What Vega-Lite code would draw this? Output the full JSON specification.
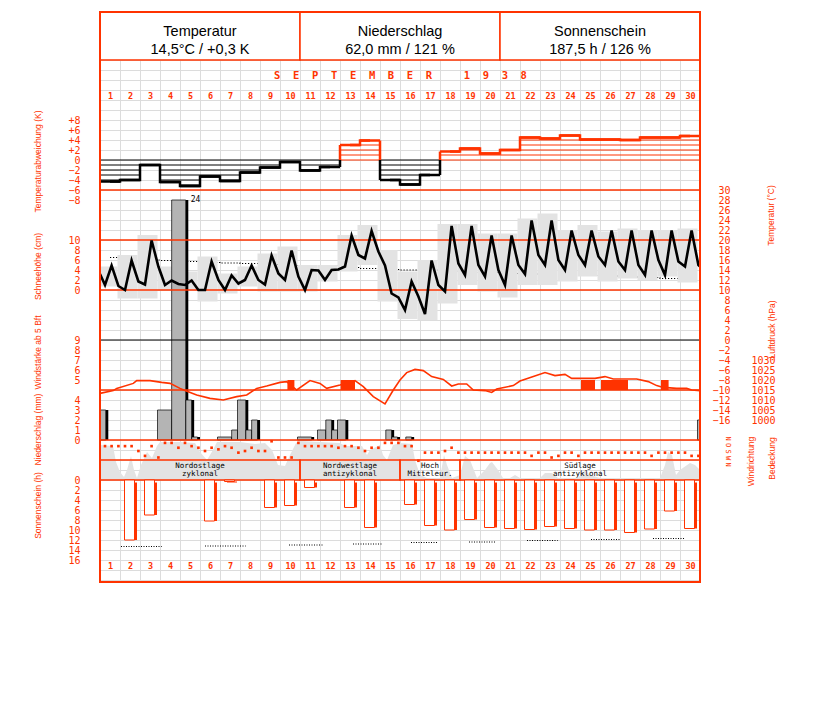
{
"$schema": "https://vega.github.io/schema/vega-lite/v6.json",
"width": 600, "height": 570,
"autosize": {"type": "none"},
"padding": {"left": 100, "top": 12, "right": 127, "bottom": 120},
"background": "white",
"config": {
 "view": {"stroke": null},
 "axis": {"domain": false, "ticks": false, "tickSize": 0, "grid": false, "labelColor": "#ff3300", "labelFont": "DejaVu Sans Mono", "labelFontSize": 10, "labelOverlap": false, "labelFlush": false, "labelBaseline": "middle", "titleColor": "#ff3300", "titleFont": "Liberation Sans", "titleFontSize": 8.5, "titleFontWeight": "normal", "titleAlign": "center", "titleBaseline": "middle"},
 "axisY": {"titleAngle": -90}
},
"datasets": {
 "header": [
  {"title": "Temperatur", "value": "14,5°C / +0,3 K"},
  {"title": "Niederschlag", "value": "62,0 mm / 121 %"},
  {"title": "Sonnenschein", "value": "187,5 h / 126 %"}
 ],
 "days": [
  {"day":1,"dev":-4.3,"seg":1,"tmax":14.7,"tmin":10.7,"tclim":16.5,"sun":0,"wl1":"Nordostlage","wl2":"zyklonal"},
  {"day":2,"dev":-4.0,"seg":1,"tmax":17,"tmin":8.3,"tclim":16.1,"sun":12.0,"wl1":"Nordostlage","wl2":"zyklonal"},
  {"day":3,"dev":-1.0,"seg":1,"tmax":21,"tmin":8.3,"tclim":16.0,"sun":7.0,"wl1":"Nordostlage","wl2":"zyklonal"},
  {"day":4,"dev":-4.4,"seg":1,"tmax":14.7,"tmin":10,"tclim":15.9,"sun":0,"wl1":"Nordostlage","wl2":"zyklonal"},
  {"day":5,"dev":-5.2,"seg":1,"tmax":13.7,"tmin":10,"tclim":15.7,"sun":0,"wl1":"Nordostlage","wl2":"zyklonal"},
  {"day":6,"dev":-3.3,"seg":1,"tmax":16.7,"tmin":7.7,"tclim":15.5,"sun":8.2,"wl1":"Nordostlage","wl2":"zyklonal"},
  {"day":7,"dev":-4.2,"seg":1,"tmax":13.3,"tmin":9.3,"tclim":15.4,"sun":0.3,"wl1":"Nordostlage","wl2":"zyklonal"},
  {"day":8,"dev":-2.5,"seg":1,"tmax":14.7,"tmin":10.7,"tclim":15.3,"sun":0,"wl1":"Nordostlage","wl2":"zyklonal"},
  {"day":9,"dev":-1.5,"seg":1,"tmax":17.3,"tmin":9.7,"tclim":15.1,"sun":5.5,"wl1":"Nordostlage","wl2":"zyklonal"},
  {"day":10,"dev":-0.4,"seg":1,"tmax":18.7,"tmin":9.7,"tclim":14.9,"sun":5.1,"wl1":"Nordostlage","wl2":"zyklonal"},
  {"day":11,"dev":-2.1,"seg":1,"tmax":15,"tmin":9.7,"tclim":14.9,"sun":1.5,"wl1":"Nordwestlage","wl2":"antizyklonal"},
  {"day":12,"dev":-1.4,"seg":1,"tmax":15,"tmin":11.7,"tclim":14.9,"sun":0,"wl1":"Nordwestlage","wl2":"antizyklonal"},
  {"day":13,"dev":3.0,"seg":2,"tmax":21,"tmin":13.7,"tclim":14.5,"sun":5.5,"wl1":"Nordwestlage","wl2":"antizyklonal"},
  {"day":14,"dev":3.9,"seg":2,"tmax":23,"tmin":15,"tclim":14.3,"sun":9.5,"wl1":"Nordwestlage","wl2":"antizyklonal"},
  {"day":15,"dev":-4.0,"seg":3,"tmax":18,"tmin":7.7,"tclim":14.1,"sun":0,"wl1":"Nordwestlage","wl2":"antizyklonal"},
  {"day":16,"dev":-4.9,"seg":3,"tmax":13.7,"tmin":4.2,"tclim":14.0,"sun":4.9,"wl1":"Hoch","wl2":"Mitteleur."},
  {"day":17,"dev":-3.0,"seg":3,"tmax":16,"tmin":4,"tclim":14.0,"sun":9.1,"wl1":"Hoch","wl2":"Mitteleur."},
  {"day":18,"dev":1.7,"seg":4,"tmax":23.2,"tmin":7.3,"tclim":13.7,"sun":10.0,"wl1":"Hoch","wl2":"Mitteleur."},
  {"day":19,"dev":2.3,"seg":4,"tmax":23.2,"tmin":11,"tclim":13.5,"sun":7.9,"wl1":"Südlage","wl2":"antizyklonal"},
  {"day":20,"dev":1.3,"seg":4,"tmax":21.3,"tmin":9.7,"tclim":13.5,"sun":9.5,"wl1":"Südlage","wl2":"antizyklonal"},
  {"day":21,"dev":2.0,"seg":4,"tmax":21.3,"tmin":8.5,"tclim":13.3,"sun":9.7,"wl1":"Südlage","wl2":"antizyklonal"},
  {"day":22,"dev":4.5,"seg":4,"tmax":24.3,"tmin":11,"tclim":13.2,"sun":9.9,"wl1":"Südlage","wl2":"antizyklonal"},
  {"day":23,"dev":4.3,"seg":4,"tmax":25.3,"tmin":11,"tclim":13.1,"sun":9.3,"wl1":"Südlage","wl2":"antizyklonal"},
  {"day":24,"dev":4.9,"seg":4,"tmax":22,"tmin":11.7,"tclim":13.0,"sun":9.7,"wl1":"Südlage","wl2":"antizyklonal"},
  {"day":25,"dev":4.1,"seg":4,"tmax":23,"tmin":12.7,"tclim":12.9,"sun":10.0,"wl1":"Südlage","wl2":"antizyklonal"},
  {"day":26,"dev":4.1,"seg":4,"tmax":21.7,"tmin":11.7,"tclim":12.8,"sun":10.0,"wl1":"Südlage","wl2":"antizyklonal"},
  {"day":27,"dev":4.0,"seg":4,"tmax":22.3,"tmin":12.3,"tclim":12.6,"sun":10.5,"wl1":"Südlage","wl2":"antizyklonal"},
  {"day":28,"dev":4.5,"seg":4,"tmax":22,"tmin":12,"tclim":12.5,"sun":9.8,"wl1":"Südlage","wl2":"antizyklonal"},
  {"day":29,"dev":4.5,"seg":4,"tmax":22,"tmin":12.7,"tclim":12.3,"sun":6.2,"wl1":"Südlage","wl2":"antizyklonal"},
  {"day":30,"dev":4.8,"seg":4,"tmax":22.3,"tmin":11.5,"tclim":12.1,"sun":9.7,"wl1":"Südlage","wl2":"antizyklonal"}
 ],
 "temp": [
  {"t":0.5,"T":13.2},{"t":0.75,"T":11},{"t":1.08,"T":14.9},{"t":1.42,"T":10.8},
  {"t":1.75,"T":10},{"t":2.08,"T":15.9},{"t":2.42,"T":11.7},
  {"t":2.75,"T":11.1},{"t":3.08,"T":19.9},{"t":3.42,"T":14.7},
  {"t":3.75,"T":11},{"t":4.08,"T":11.9},{"t":4.42,"T":11.2},
  {"t":4.75,"T":11},{"t":5.08,"T":11.9},{"t":5.42,"T":10},
  {"t":5.75,"T":10},{"t":6.08,"T":15.7},{"t":6.42,"T":12},
  {"t":6.75,"T":10},{"t":7.08,"T":12.9},{"t":7.42,"T":11.3},
  {"t":7.75,"T":12},{"t":8.08,"T":14.9},{"t":8.42,"T":12},
  {"t":8.75,"T":11.1},{"t":9.08,"T":16.9},{"t":9.42,"T":13.3},
  {"t":9.75,"T":12},{"t":10.08,"T":17.9},{"t":10.42,"T":12.7},
  {"t":10.75,"T":10},{"t":11.08,"T":14},{"t":11.42,"T":13.9},
  {"t":11.75,"T":12},{"t":12.08,"T":14},{"t":12.42,"T":14.1},
  {"t":12.75,"T":14.7},{"t":13.08,"T":20.9},{"t":13.42,"T":17},
  {"t":13.75,"T":16.3},{"t":14.08,"T":21.8},{"t":14.42,"T":17.7},
  {"t":14.75,"T":14.9},{"t":15.08,"T":9.3},{"t":15.42,"T":8.5},
  {"t":15.75,"T":6},{"t":16.08,"T":11.7},{"t":16.42,"T":8.7},
  {"t":16.75,"T":5.2},{"t":17.08,"T":15.9},{"t":17.42,"T":11},
  {"t":17.75,"T":9.7},{"t":18.08,"T":22.8},{"t":18.42,"T":15.3},
  {"t":18.75,"T":13},{"t":19.08,"T":22.8},{"t":19.42,"T":15},
  {"t":19.75,"T":12.7},{"t":20.08,"T":20.9},{"t":20.42,"T":14},
  {"t":20.75,"T":11},{"t":21.08,"T":20.9},{"t":21.42,"T":15},
  {"t":21.75,"T":13.2},{"t":22.08,"T":23.9},{"t":22.42,"T":17},
  {"t":22.75,"T":15},{"t":23.08,"T":23.9},{"t":23.42,"T":16},
  {"t":23.75,"T":14},{"t":24.08,"T":21.9},{"t":24.42,"T":17},
  {"t":24.75,"T":15},{"t":25.08,"T":21.9},{"t":25.42,"T":16.7},
  {"t":25.75,"T":15},{"t":26.08,"T":21.9},{"t":26.42,"T":15.7},
  {"t":26.75,"T":14},{"t":27.08,"T":21.9},{"t":27.42,"T":15},
  {"t":27.75,"T":13},{"t":28.08,"T":21.9},{"t":28.42,"T":16},
  {"t":28.75,"T":13},{"t":29.08,"T":21.9},{"t":29.42,"T":15.7},
  {"t":29.75,"T":14.7},{"t":30.08,"T":21.9},{"t":30.42,"T":15},{"t":30.5,"T":14.7}
 ],
 "precip": [
  {"t0":0.5,"t1":0.79,"mm":3},{"t0":3.375,"t1":4.083,"mm":3},{"t0":4.083,"t1":4.79,"mm":24},
  {"t0":4.79,"t1":5.083,"mm":4},{"t0":5.083,"t1":5.375,"mm":0.3},{"t0":6.375,"t1":7.083,"mm":0.3},
  {"t0":7.083,"t1":7.375,"mm":1},{"t0":7.375,"t1":7.79,"mm":4},{"t0":7.79,"t1":8.083,"mm":1},
  {"t0":8.083,"t1":8.375,"mm":2},{"t0":10.375,"t1":11.083,"mm":0.3},{"t0":11.375,"t1":11.79,"mm":1},
  {"t0":11.79,"t1":12.083,"mm":2},{"t0":12.083,"t1":12.375,"mm":1},{"t0":12.375,"t1":12.79,"mm":2},
  {"t0":14.79,"t1":15.083,"mm":1},{"t0":15.083,"t1":15.375,"mm":0.3},{"t0":15.79,"t1":16.083,"mm":0.3},
  {"t0":30.375,"t1":30.5,"mm":2}
 ],
 "pressure": [
  {"t":0.5,"hPa":1013.3},{"t":1.165,"hPa":1014.7},{"t":1.335,"hPa":1015.8},{"t":2.165,"hPa":1018.3},
  {"t":2.335,"hPa":1019.7},{"t":3.0,"hPa":1019.7},{"t":3.585,"hPa":1018.8},{"t":4.0,"hPa":1018.3},
  {"t":4.5,"hPa":1015.8},{"t":4.75,"hPa":1014.7},{"t":5.335,"hPa":1012.5},{"t":6.0,"hPa":1010.8},
  {"t":6.665,"hPa":1010},{"t":7.335,"hPa":1011.7},{"t":7.835,"hPa":1012.5},{"t":8.335,"hPa":1015.8},
  {"t":8.835,"hPa":1017},{"t":9.5,"hPa":1018.8},{"t":9.835,"hPa":1019.2},{"t":10.335,"hPa":1015},
  {"t":11.0,"hPa":1019.7},{"t":11.5,"hPa":1018.3},{"t":11.835,"hPa":1015.8},{"t":12.5,"hPa":1017.5},
  {"t":13.25,"hPa":1019.7},{"t":13.665,"hPa":1016.7},{"t":14.165,"hPa":1011.7},{"t":14.75,"hPa":1008},
  {"t":15.165,"hPa":1015},{"t":15.5,"hPa":1020},{"t":15.835,"hPa":1023.7},{"t":16.25,"hPa":1025.3},
  {"t":16.665,"hPa":1024.7},{"t":17.085,"hPa":1021.7},{"t":17.665,"hPa":1020.3},{"t":18.085,"hPa":1017},
  {"t":18.415,"hPa":1018},{"t":18.835,"hPa":1018},{"t":19.165,"hPa":1015},{"t":19.75,"hPa":1014.7},
  {"t":20.085,"hPa":1013.8},{"t":20.335,"hPa":1015.5},{"t":21.165,"hPa":1017.2},{"t":21.5,"hPa":1019.5},
  {"t":22.165,"hPa":1021.7},{"t":22.75,"hPa":1023.7},{"t":23.25,"hPa":1022.2},{"t":23.75,"hPa":1022.8},
  {"t":24.085,"hPa":1020.8},{"t":25.25,"hPa":1020.8},{"t":25.75,"hPa":1021.7},{"t":26.165,"hPa":1020.5},
  {"t":27.335,"hPa":1020.5},{"t":27.915,"hPa":1019.2},{"t":28.335,"hPa":1017.2},{"t":28.665,"hPa":1016.3},
  {"t":29.335,"hPa":1015.8},{"t":29.835,"hPa":1015.8},{"t":30.085,"hPa":1015},{"t":30.5,"hPa":1014.7}
 ],
 "wind": [
  {"t0":9.87,"t1":10.22,"bft":5},{"t0":12.53,"t1":13.25,"bft":5},{"t0":24.55,"t1":25.25,"bft":5},
  {"t0":25.55,"t1":26.9,"bft":5},{"t0":28.55,"t1":28.93,"bft":5}
 ],
 "cloud": [
  {"t":0.5,"c":8.75},{"t":1.15,"c":8.5},{"t":1.3,"c":4.5},{"t":1.5,"c":2},{"t":1.7,"c":0.75},{"t":1.85,"c":2.5},
  {"t":2.05,"c":6},{"t":2.2,"c":2.5},{"t":2.35,"c":0.5},{"t":2.55,"c":3.75},{"t":2.85,"c":7},{"t":3.1,"c":5.5},
  {"t":3.35,"c":8.5},{"t":3.5,"c":9.5},{"t":4.5,"c":9.5},{"t":5.25,"c":9.25},{"t":5.5,"c":7},{"t":5.85,"c":5},
  {"t":6.15,"c":7.5},{"t":6.35,"c":9.5},{"t":7.5,"c":9.5},{"t":8.25,"c":9},{"t":8.75,"c":9.25},{"t":9.1,"c":7.5},
  {"t":9.4,"c":3.75},{"t":9.75,"c":3.5},{"t":10.0,"c":6.25},{"t":10.3,"c":9.25},{"t":10.5,"c":9.75},{"t":12.5,"c":9.25},
  {"t":12.75,"c":8.5},{"t":13.6,"c":8.5},{"t":13.85,"c":6.25},{"t":14.0,"c":7.5},{"t":14.5,"c":8.75},{"t":14.65,"c":6.25},
  {"t":14.85,"c":5},{"t":15.15,"c":8.75},{"t":15.5,"c":9.25},{"t":16.1,"c":9},{"t":16.25,"c":5},{"t":16.5,"c":1.25},
  {"t":16.85,"c":0.5},{"t":17.5,"c":0.5},{"t":17.7,"c":6.25},{"t":17.85,"c":3.75},{"t":18.1,"c":0.5},{"t":18.5,"c":1.25},
  {"t":18.75,"c":6},{"t":19.0,"c":5},{"t":19.35,"c":0.5},{"t":19.75,"c":2.5},{"t":20.0,"c":4.25},{"t":20.1,"c":4.5},
  {"t":20.4,"c":2.5},{"t":20.65,"c":0.5},{"t":21.0,"c":0.5},{"t":21.25,"c":1.25},{"t":21.5,"c":0.5},{"t":22.5,"c":0.5},
  {"t":22.75,"c":1.75},{"t":23.1,"c":1.75},{"t":23.4,"c":0.5},{"t":24.4,"c":0.5},{"t":24.75,"c":2.5},{"t":25.0,"c":1.25},
  {"t":25.5,"c":0.5},{"t":28.5,"c":0.5},{"t":28.75,"c":3.75},{"t":28.9,"c":7},{"t":29.1,"c":6.25},{"t":29.3,"c":1.25},
  {"t":29.5,"c":2.5},{"t":30.0,"c":4.25},{"t":30.25,"c":3.75},{"t":30.5,"c":2.5}
 ],
 "dir": [
  {"t":0.75,"deg":112.5},{"t":1.08,"deg":112.5},{"t":1.42,"deg":112.5},
  {"t":1.75,"deg":112.5},{"t":2.08,"deg":112.5},{"t":2.42,"deg":180},
  {"t":2.75,"deg":247.5},{"t":3.08,"deg":112.5},{"t":3.42,"deg":270},
  {"t":3.75,"deg":67.5},{"t":4.08,"deg":67.5},{"t":4.42,"deg":135},
  {"t":4.75,"deg":67.5},{"t":5.08,"deg":112.5},{"t":5.42,"deg":135},
  {"t":5.75,"deg":180},{"t":6.08,"deg":135},{"t":6.42,"deg":157.5},
  {"t":6.75,"deg":112.5},{"t":7.08,"deg":135},{"t":7.42,"deg":202.5},
  {"t":7.75,"deg":180},{"t":8.08,"deg":135},{"t":8.42,"deg":180},
  {"t":8.75,"deg":180},{"t":9.08,"deg":45},{"t":9.42,"deg":270},
  {"t":9.75,"deg":270},{"t":10.08,"deg":270},{"t":10.42,"deg":67.5},
  {"t":10.75,"deg":112.5},{"t":11.08,"deg":112.5},{"t":11.42,"deg":112.5},
  {"t":11.75,"deg":112.5},{"t":12.08,"deg":112.5},{"t":12.42,"deg":135},
  {"t":12.75,"deg":112.5},{"t":13.08,"deg":112.5},{"t":13.42,"deg":135},
  {"t":13.75,"deg":180},{"t":14.08,"deg":135},{"t":14.42,"deg":135},
  {"t":14.75,"deg":67.5},{"t":15.08,"deg":67.5},{"t":15.42,"deg":67.5},
  {"t":15.75,"deg":112.5},{"t":16.08,"deg":112.5},{"t":16.42,"deg":315},
  {"t":16.75,"deg":202.5},{"t":17.08,"deg":202.5},{"t":17.42,"deg":202.5},
  {"t":17.75,"deg":180},{"t":18.08,"deg":135},{"t":18.42,"deg":202.5},
  {"t":18.75,"deg":202.5},{"t":19.08,"deg":202.5},{"t":19.42,"deg":202.5},
  {"t":19.75,"deg":202.5},{"t":20.08,"deg":202.5},{"t":20.42,"deg":202.5},
  {"t":20.75,"deg":202.5},{"t":21.08,"deg":202.5},{"t":21.42,"deg":202.5},
  {"t":21.75,"deg":202.5},{"t":22.08,"deg":247.5},{"t":22.42,"deg":202.5},
  {"t":22.75,"deg":202.5},{"t":23.08,"deg":270},{"t":23.42,"deg":247.5},
  {"t":23.75,"deg":202.5},{"t":24.08,"deg":202.5},{"t":24.42,"deg":247.5},
  {"t":24.75,"deg":202.5},{"t":25.08,"deg":202.5},{"t":25.42,"deg":202.5},
  {"t":25.75,"deg":202.5},{"t":26.08,"deg":202.5},{"t":26.42,"deg":202.5},
  {"t":26.75,"deg":202.5},{"t":27.08,"deg":202.5},{"t":27.42,"deg":202.5},
  {"t":27.75,"deg":202.5},{"t":28.08,"deg":247.5},{"t":28.42,"deg":202.5},
  {"t":28.75,"deg":202.5},{"t":29.08,"deg":202.5},{"t":29.42,"deg":202.5},
  {"t":29.75,"deg":202.5},{"t":30.08,"deg":247.5},{"t":30.42,"deg":247.5}
 ],
 "sunmax": [
  {"t0":1.55,"t1":3.585,"h":13.3},{"t0":5.75,"t1":7.785,"h":13.2},{"t0":9.95,"t1":11.7,"h":13.0},
  {"t0":13.15,"t1":14.585,"h":12.8},{"t0":16.05,"t1":17.385,"h":12.5},{"t0":18.95,"t1":20.285,"h":12.4},
  {"t0":21.85,"t1":23.385,"h":12.1},{"t0":25.05,"t1":26.5,"h":11.9},{"t0":28.15,"t1":29.7,"h":11.7}
 ]
},
"layer": [
 {"data": {"name": "days"}, "mark": {"type": "point", "opacity": 0},
  "encoding": {"x": {"field": "day", "type": "quantitative", "scale": {"domain": [0.5, 30.5], "nice": false, "zero": false},
   "axis": {"orient": "bottom", "values": [0.5,1.5,2.5,3.5,4.5,5.5,6.5,7.5,8.5,9.5,10.5,11.5,12.5,13.5,14.5,15.5,16.5,17.5,18.5,19.5,20.5,21.5,22.5,23.5,24.5,25.5,26.5,27.5,28.5,29.5,30.5], "grid": true, "gridColor": "#dcdcdc", "gridWidth": 1, "labels": false, "title": null}}}},
 {"data": {"name": "days"}, "mark": {"type": "line", "strokeWidth": 0, "opacity": 0},
  "encoding": {"x": {"field": "day", "type": "quantitative", "scale": {"domain": [0.5, 30.5], "nice": false, "zero": false}, "axis": null},
   "y": {"field": "tclim", "type": "quantitative", "scale": {"domain": [-48.4, 65.6], "nice": false, "zero": false},
    "axis": {"orient": "left", "values": [-48,-46,-44,-42,-40,-38,-36,-34,-32,-30,-28,-26,-24,-22,-20,-18,-16,-14,-12,-10,-8,-6,-4,-2,0,2,4,6,8,10,12,14,16,18,20,22,24,26,28,30,32,34,36,38,40,42,44,46,48,50,52,54,56,58,60,62,64], "grid": true, "gridColor": "#dcdcdc", "gridWidth": 1, "labels": false, "title": null}}}},
 {"data": {"name": "days"}, "mark": {"type": "point", "opacity": 0},
  "encoding": {"x": {"field": "day", "type": "quantitative", "scale": {"domain": [0.5, 30.5], "nice": false, "zero": false},
   "axis": {"orient": "top", "values": [1,2,3,4,5,6,7,8,9,10,11,12,13,14,15,16,17,18,19,20,21,22,23,24,25,26,27,28,29,30], "labelPadding": -83.7, "labelBaseline": "middle", "labelFontWeight": "bold", "labelFontSize": 8.5,
    "title": "S\u00a0\u00a0E\u00a0\u00a0P\u00a0\u00a0T\u00a0\u00a0E\u00a0\u00a0M\u00a0\u00a0B\u00a0\u00a0E\u00a0\u00a0R\u00a0\u00a0\u00a0\u00a0\u00a01\u00a0\u00a09\u00a0\u00a03\u00a0\u00a08",
    "titleY": 63.7, "titleFont": "DejaVu Sans Mono", "titleFontWeight": "bold", "titleFontSize": 10.5, "titleBaseline": "middle", "titleAlign": "center"}}}},
 {"data": {"name": "days"}, "mark": {"type": "point", "opacity": 0},
  "encoding": {"x": {"field": "day", "type": "quantitative", "scale": {"domain": [0.5, 30.5], "nice": false, "zero": false},
   "axis": {"orient": "bottom", "values": [1,2,3,4,5,6,7,8,9,10,11,12,13,14,15,16,17,18,19,20,21,22,23,24,25,26,27,28,29,30], "labelPadding": -16.3, "labelBaseline": "middle", "labelFontWeight": "bold", "labelFontSize": 8.5, "title": null}}}},

 {"data": {"name": "header"}, "mark": {"type": "rect", "fill": "white", "stroke": "#ff3300", "strokeWidth": 1.5},
  "encoding": {
   "x": {"field": "title", "type": "nominal", "sort": null, "scale": {"paddingInner": 0, "paddingOuter": 0}, "axis": null},
   "y": {"datum": 1, "type": "quantitative", "scale": {"domain": [-10.875, 1], "nice": false, "zero": false}, "axis": null},
   "y2": {"datum": 0}}},
 {"data": {"name": "header"}, "mark": {"type": "text", "font": "Liberation Sans", "fontSize": 14.5, "baseline": "alphabetic", "color": "black"},
  "encoding": {
   "x": {"field": "title", "type": "nominal", "sort": null, "scale": {"paddingInner": 0, "paddingOuter": 0}, "axis": null},
   "y": {"datum": 0.5, "type": "quantitative", "scale": {"domain": [-10.875, 1], "nice": false, "zero": false}, "axis": null},
   "text": {"field": "title", "type": "nominal"}}},
 {"data": {"name": "header"}, "mark": {"type": "text", "font": "Liberation Sans", "fontSize": 14.5, "baseline": "alphabetic", "color": "black", "dy": 18},
  "encoding": {
   "x": {"field": "title", "type": "nominal", "sort": null, "scale": {"paddingInner": 0, "paddingOuter": 0}, "axis": null},
   "y": {"datum": 0.5, "type": "quantitative", "scale": {"domain": [-10.875, 1], "nice": false, "zero": false}, "axis": null},
   "text": {"field": "value", "type": "nominal"}}},

 {"data": {"name": "days"}, "mark": {"type": "line", "interpolate": "step", "strokeDash": [1.2, 1.8], "strokeWidth": 1.2, "color": "black"},
  "encoding": {"x": {"field": "day", "type": "quantitative", "scale": {"domain": [0.5, 30.5], "nice": false, "zero": false}, "axis": null},
   "y": {"field": "tclim", "type": "quantitative", "scale": {"domain": [-48.4, 65.6], "nice": false, "zero": false}, "axis": null}}},
 {"data": {"name": "days"}, "mark": {"type": "rect", "color": "#e3e3e3", "xOffset": -12.5, "x2Offset": 7.5, "clip": true},
  "encoding": {"x": {"field": "day", "type": "quantitative", "scale": {"domain": [0.5, 30.5], "nice": false, "zero": false}, "axis": null}, "x2": {"field": "day"},
   "y": {"field": "tmax", "type": "quantitative", "scale": {"domain": [-48.4, 65.6], "nice": false, "zero": false}, "axis": null}, "y2": {"field": "tmin"}}},

 {"data": {"name": "cloud"}, "mark": {"type": "area", "color": "#e3e3e3"},
  "encoding": {"x": {"field": "t", "type": "quantitative", "scale": {"domain": [0.5, 30.5], "nice": false, "zero": false}, "axis": null},
   "y": {"field": "c", "type": "quantitative", "scale": {"domain": [-25.5, 117], "nice": false, "zero": false},
    "axis": {"orient": "right", "values": [0], "labels": false, "title": "Bedeckung", "titleX": 71, "titleY": 446}},
   "y2": {"datum": 0}}},

 {"data": {"name": "days"}, "mark": {"type": "rule", "xOffset": -10, "x2Offset": 10, "strokeWidth": 1},
  "encoding": {"x": {"field": "day", "type": "quantitative", "scale": {"domain": [0.5, 30.5], "nice": false, "zero": false}, "axis": null}, "x2": {"field": "day"},
   "y": {"datum": 0, "type": "quantitative", "scale": {"domain": [-84.4, 29.6], "nice": false, "zero": false},
    "axis": {"orient": "left", "values": [-8,-6,-4,-2,0,2,4,6,8], "labelPadding": 20, "labelExpr": "datum.value > 0 ? '+' + datum.label : datum.label", "title": "Temperaturabweichung (K)", "titleX": -63, "titleY": 149}},
   "color": {"condition": {"test": "datum.dev > 0", "value": "#ff3300"}, "value": "black"}}},
 {"data": {"name": "days"}, "transform": [{"filter": "datum.dev >= 1"}], "mark": {"type": "rule", "xOffset": -10, "x2Offset": 10, "strokeWidth": 1, "color": "#ff3300"},
  "encoding": {"x": {"field": "day", "type": "quantitative", "scale": {"domain": [0.5, 30.5], "nice": false, "zero": false}, "axis": null}, "x2": {"field": "day"},
   "y": {"datum": 1, "type": "quantitative", "scale": {"domain": [-84.4, 29.6], "nice": false, "zero": false}, "axis": null}}},
 {"data": {"name": "days"}, "transform": [{"filter": "datum.dev >= 2"}], "mark": {"type": "rule", "xOffset": -10, "x2Offset": 10, "strokeWidth": 1, "color": "#ff3300"},
  "encoding": {"x": {"field": "day", "type": "quantitative", "scale": {"domain": [0.5, 30.5], "nice": false, "zero": false}, "axis": null}, "x2": {"field": "day"},
   "y": {"datum": 2, "type": "quantitative", "scale": {"domain": [-84.4, 29.6], "nice": false, "zero": false}, "axis": null}}},
 {"data": {"name": "days"}, "transform": [{"filter": "datum.dev >= 3"}], "mark": {"type": "rule", "xOffset": -10, "x2Offset": 10, "strokeWidth": 1, "color": "#ff3300"},
  "encoding": {"x": {"field": "day", "type": "quantitative", "scale": {"domain": [0.5, 30.5], "nice": false, "zero": false}, "axis": null}, "x2": {"field": "day"},
   "y": {"datum": 3, "type": "quantitative", "scale": {"domain": [-84.4, 29.6], "nice": false, "zero": false}, "axis": null}}},
 {"data": {"name": "days"}, "transform": [{"filter": "datum.dev >= 4"}], "mark": {"type": "rule", "xOffset": -10, "x2Offset": 10, "strokeWidth": 1, "color": "#ff3300"},
  "encoding": {"x": {"field": "day", "type": "quantitative", "scale": {"domain": [0.5, 30.5], "nice": false, "zero": false}, "axis": null}, "x2": {"field": "day"},
   "y": {"datum": 4, "type": "quantitative", "scale": {"domain": [-84.4, 29.6], "nice": false, "zero": false}, "axis": null}}},
 {"data": {"name": "days"}, "transform": [{"filter": "datum.dev <= -1"}], "mark": {"type": "rule", "xOffset": -10, "x2Offset": 10, "strokeWidth": 1, "color": "black"},
  "encoding": {"x": {"field": "day", "type": "quantitative", "scale": {"domain": [0.5, 30.5], "nice": false, "zero": false}, "axis": null}, "x2": {"field": "day"},
   "y": {"datum": -1, "type": "quantitative", "scale": {"domain": [-84.4, 29.6], "nice": false, "zero": false}, "axis": null}}},
 {"data": {"name": "days"}, "transform": [{"filter": "datum.dev <= -2"}], "mark": {"type": "rule", "xOffset": -10, "x2Offset": 10, "strokeWidth": 1, "color": "black"},
  "encoding": {"x": {"field": "day", "type": "quantitative", "scale": {"domain": [0.5, 30.5], "nice": false, "zero": false}, "axis": null}, "x2": {"field": "day"},
   "y": {"datum": -2, "type": "quantitative", "scale": {"domain": [-84.4, 29.6], "nice": false, "zero": false}, "axis": null}}},
 {"data": {"name": "days"}, "transform": [{"filter": "datum.dev <= -3"}], "mark": {"type": "rule", "xOffset": -10, "x2Offset": 10, "strokeWidth": 1, "color": "black"},
  "encoding": {"x": {"field": "day", "type": "quantitative", "scale": {"domain": [0.5, 30.5], "nice": false, "zero": false}, "axis": null}, "x2": {"field": "day"},
   "y": {"datum": -3, "type": "quantitative", "scale": {"domain": [-84.4, 29.6], "nice": false, "zero": false}, "axis": null}}},
 {"data": {"name": "days"}, "transform": [{"filter": "datum.dev <= -4"}], "mark": {"type": "rule", "xOffset": -10, "x2Offset": 10, "strokeWidth": 1, "color": "black"},
  "encoding": {"x": {"field": "day", "type": "quantitative", "scale": {"domain": [0.5, 30.5], "nice": false, "zero": false}, "axis": null}, "x2": {"field": "day"},
   "y": {"datum": -4, "type": "quantitative", "scale": {"domain": [-84.4, 29.6], "nice": false, "zero": false}, "axis": null}}},
 {"data": {"name": "days"}, "transform": [{"filter": "datum.dev <= -5"}], "mark": {"type": "rule", "xOffset": -10, "x2Offset": 10, "strokeWidth": 1, "color": "black"},
  "encoding": {"x": {"field": "day", "type": "quantitative", "scale": {"domain": [0.5, 30.5], "nice": false, "zero": false}, "axis": null}, "x2": {"field": "day"},
   "y": {"datum": -5, "type": "quantitative", "scale": {"domain": [-84.4, 29.6], "nice": false, "zero": false}, "axis": null}}},
 {"data": {"name": "days"}, "mark": {"type": "line", "interpolate": "step", "strokeWidth": 2.5},
  "encoding": {"x": {"field": "day", "type": "quantitative", "scale": {"domain": [0.5, 30.5], "nice": false, "zero": false}, "axis": null},
   "y": {"field": "dev", "type": "quantitative", "scale": {"domain": [-84.4, 29.6], "nice": false, "zero": false}, "axis": null},
   "detail": {"field": "seg", "type": "nominal"},
   "color": {"condition": {"test": "datum.dev > 0", "value": "#ff3300"}, "value": "black"}}},
 {"data": {"name": "days"}, "mark": {"type": "rule", "xOffset": -10, "x2Offset": 10, "strokeWidth": 2.5},
  "encoding": {"x": {"field": "day", "type": "quantitative", "scale": {"domain": [0.5, 30.5], "nice": false, "zero": false}, "axis": null}, "x2": {"field": "day"},
   "y": {"field": "dev", "type": "quantitative", "scale": {"domain": [-84.4, 29.6], "nice": false, "zero": false}, "axis": null},
   "color": {"condition": {"test": "datum.dev > 0", "value": "#ff3300"}, "value": "black"}}},
 {"data": {"name": "days"},
  "transform": [{"window": [{"op": "lag", "field": "seg", "as": "prev"}], "sort": [{"field": "day"}]}, {"filter": "datum.prev != null && datum.prev != datum.seg"}],
  "mark": {"type": "rule", "xOffset": -10, "strokeWidth": 2.5},
  "encoding": {"x": {"field": "day", "type": "quantitative", "scale": {"domain": [0.5, 30.5], "nice": false, "zero": false}, "axis": null},
   "y": {"field": "dev", "type": "quantitative", "scale": {"domain": [-84.4, 29.6], "nice": false, "zero": false}, "axis": null}, "y2": {"datum": 0},
   "color": {"condition": {"test": "datum.dev > 0", "value": "#ff3300"}, "value": "black"}}},
 {"data": {"name": "days"},
  "transform": [{"window": [{"op": "lead", "field": "seg", "as": "next"}], "sort": [{"field": "day"}]}, {"filter": "datum.next != null && datum.next != datum.seg"}],
  "mark": {"type": "rule", "xOffset": 10, "strokeWidth": 2.5},
  "encoding": {"x": {"field": "day", "type": "quantitative", "scale": {"domain": [0.5, 30.5], "nice": false, "zero": false}, "axis": null},
   "y": {"field": "dev", "type": "quantitative", "scale": {"domain": [-84.4, 29.6], "nice": false, "zero": false}, "axis": null}, "y2": {"datum": 0},
   "color": {"condition": {"test": "datum.dev > 0", "value": "#ff3300"}, "value": "black"}}},

 {"data": {"name": "precip"}, "mark": {"type": "rect", "color": "black", "xOffset": 2.5, "x2Offset": 2.5, "clip": true},
  "encoding": {"x": {"field": "t0", "type": "quantitative", "scale": {"domain": [0.5, 30.5], "nice": false, "zero": false}, "axis": null}, "x2": {"field": "t1"},
   "y": {"field": "mm", "type": "quantitative", "scale": {"domain": [-14.2, 42.8], "nice": false, "zero": false},
    "axis": {"orient": "left", "values": [0,1,2,3,4], "labelPadding": 20, "title": "Niederschlag (mm)", "titleX": -63, "titleY": 417}},
   "y2": {"datum": 0}}},
 {"data": {"name": "precip"}, "mark": {"type": "rect", "fill": "#b4b4b4", "stroke": "black", "strokeWidth": 0.7, "clip": true},
  "encoding": {"x": {"field": "t0", "type": "quantitative", "scale": {"domain": [0.5, 30.5], "nice": false, "zero": false}, "axis": null}, "x2": {"field": "t1"},
   "y": {"field": "mm", "type": "quantitative", "scale": {"domain": [-14.2, 42.8], "nice": false, "zero": false}, "axis": null}, "y2": {"datum": 0}}},
 {"data": {"name": "precip"}, "transform": [{"filter": "datum.mm > 20"}],
  "mark": {"type": "text", "align": "left", "baseline": "middle", "dx": 5, "fontSize": 8, "font": "DejaVu Sans Mono", "color": "black"},
  "encoding": {"x": {"field": "t1", "type": "quantitative", "scale": {"domain": [0.5, 30.5], "nice": false, "zero": false}, "axis": null},
   "y": {"field": "mm", "type": "quantitative", "scale": {"domain": [-14.2, 42.8], "nice": false, "zero": false}, "axis": null}, "text": {"field": "mm", "type": "quantitative"}}},

 {"data": {"values": [{}]}, "mark": {"type": "rule", "color": "#ff3300", "strokeWidth": 1.5},
  "encoding": {"y": {"datum": 30, "type": "quantitative", "scale": {"domain": [-48.4, 65.6], "nice": false, "zero": false}, "axis": null}}},
 {"data": {"values": [{}]}, "mark": {"type": "rule", "color": "#ff3300", "strokeWidth": 1.5},
  "encoding": {"y": {"datum": 20, "type": "quantitative", "scale": {"domain": [-48.4, 65.6], "nice": false, "zero": false}, "axis": null}}},
 {"data": {"values": [{}]}, "mark": {"type": "rule", "color": "#ff3300", "strokeWidth": 1.5},
  "encoding": {"y": {"datum": 0, "type": "quantitative", "scale": {"domain": [-58.4, 55.6], "nice": false, "zero": false},
   "axis": {"orient": "left", "values": [0,2,4,6,8,10], "labelPadding": 20, "title": "Schneehöhe (cm)", "titleX": -63, "titleY": 254}}}},
 {"data": {"values": [{}]}, "mark": {"type": "rule", "color": "black", "strokeWidth": 1.2},
  "encoding": {"y": {"datum": 0, "type": "quantitative", "scale": {"domain": [-48.4, 65.6], "nice": false, "zero": false}, "axis": null}}},
 {"data": {"values": [{}]}, "mark": {"type": "rule", "color": "#ff3300", "strokeWidth": 1.5},
  "encoding": {"y": {"datum": -10, "type": "quantitative", "scale": {"domain": [-48.4, 65.6], "nice": false, "zero": false}, "axis": null}}},
 {"data": {"values": [{}]}, "mark": {"type": "rule", "color": "#ff3300", "strokeWidth": 1.5},
  "encoding": {"y": {"datum": 0, "type": "quantitative", "scale": {"domain": [-14.2, 42.8], "nice": false, "zero": false}, "axis": null}}},

 {"data": {"name": "pressure"}, "mark": {"type": "line", "color": "#ff3300", "strokeWidth": 1.6},
  "encoding": {"x": {"field": "t", "type": "quantitative", "scale": {"domain": [0.5, 30.5], "nice": false, "zero": false}, "axis": null},
   "y": {"field": "hPa", "type": "quantitative", "scale": {"domain": [919, 1204], "nice": false, "zero": false},
    "axis": {"orient": "right", "values": [1000,1005,1010,1015,1020,1025,1030], "format": "d", "labelPadding": 75, "labelAlign": "right", "title": "Luftdruck (hPa)", "titleX": 71, "titleY": 317}}}},

 {"data": {"name": "wind"}, "mark": {"type": "rect", "color": "#ff3300"},
  "encoding": {"x": {"field": "t0", "type": "quantitative", "scale": {"domain": [0.5, 30.5], "nice": false, "zero": false}, "axis": null}, "x2": {"field": "t1"},
   "y": {"field": "bft", "type": "quantitative", "scale": {"domain": [-15.2, 41.8], "nice": false, "zero": false},
    "axis": {"orient": "left", "values": [5,6,7,8,9], "labelPadding": 20, "title": "Windstärke ab 5 Bft", "titleX": -63, "titleY": 340}},
   "y2": {"datum": 4}}},

 {"data": {"name": "temp"}, "mark": {"type": "line", "color": "black", "strokeWidth": 2.6},
  "encoding": {"x": {"field": "t", "type": "quantitative", "scale": {"domain": [0.5, 30.5], "nice": false, "zero": false}, "axis": null},
   "y": {"field": "T", "type": "quantitative", "scale": {"domain": [-48.4, 65.6], "nice": false, "zero": false},
    "axis": {"orient": "right", "values": [-16,-14,-12,-10,-8,-6,-4,-2,0,2,4,6,8,10,12,14,16,18,20,22,24,26,28,30], "labelPadding": 30, "labelAlign": "right", "title": "Temperatur (°C)", "titleX": 70, "titleY": 203}}}},

 {"data": {"name": "dir"}, "mark": {"type": "square", "color": "#ff3300", "size": 7, "opacity": 1, "filled": true},
  "encoding": {"x": {"field": "t", "type": "quantitative", "scale": {"domain": [0.5, 30.5], "nice": false, "zero": false}, "axis": null},
   "y": {"field": "deg", "type": "quantitative", "scale": {"domain": [-5898.5, 1993.8], "nice": false, "zero": false, "reverse": true},
    "axis": {"orient": "right", "values": [0,90,180,270,360], "labelExpr": "datum.value == 90 ? 'O' : datum.value == 180 ? 'S' : datum.value == 270 ? 'W' : 'N'", "labelAngle": 90, "labelFontSize": 7, "labelPadding": 27, "labelAlign": "center", "title": "Windrichtung", "titleX": 50, "titleY": 449}}}},

 {"data": {"name": "days"},
  "transform": [{"aggregate": [{"op": "min", "field": "day", "as": "d0"}, {"op": "max", "field": "day", "as": "d1"}], "groupby": ["wl1", "wl2"]}],
  "mark": {"type": "rect", "fill": "transparent", "stroke": "#ff3300", "strokeWidth": 1.5, "xOffset": -10, "x2Offset": 10},
  "encoding": {"x": {"field": "d0", "type": "quantitative", "scale": {"domain": [0.5, 30.5], "nice": false, "zero": false}, "axis": null}, "x2": {"field": "d1"},
   "y": {"datum": 1, "type": "quantitative", "scale": {"domain": [-5.1, 23.4], "nice": false, "zero": false}, "axis": null}, "y2": {"datum": 0}}},
 {"data": {"name": "days"},
  "transform": [{"aggregate": [{"op": "mean", "field": "day", "as": "dm"}], "groupby": ["wl1", "wl2"]}],
  "mark": {"type": "text", "font": "DejaVu Sans Mono", "fontSize": 7.5, "color": "black", "baseline": "middle", "dy": -4.2},
  "encoding": {"x": {"field": "dm", "type": "quantitative", "scale": {"domain": [0.5, 30.5], "nice": false, "zero": false}, "axis": null},
   "y": {"datum": 0.5, "type": "quantitative", "scale": {"domain": [-5.1, 23.4], "nice": false, "zero": false}, "axis": null}, "text": {"field": "wl1", "type": "nominal"}}},
 {"data": {"name": "days"},
  "transform": [{"aggregate": [{"op": "mean", "field": "day", "as": "dm"}], "groupby": ["wl1", "wl2"]}],
  "mark": {"type": "text", "font": "DejaVu Sans Mono", "fontSize": 7.5, "color": "black", "baseline": "middle", "dy": 4.2},
  "encoding": {"x": {"field": "dm", "type": "quantitative", "scale": {"domain": [0.5, 30.5], "nice": false, "zero": false}, "axis": null},
   "y": {"datum": 0.5, "type": "quantitative", "scale": {"domain": [-5.1, 23.4], "nice": false, "zero": false}, "axis": null}, "text": {"field": "wl2", "type": "nominal"}}},

 {"data": {"name": "days"}, "transform": [{"filter": "datum.sun > 0"}],
  "mark": {"type": "rect", "color": "#ff3300", "xOffset": -3, "x2Offset": 7, "y2Offset": 2.5},
  "encoding": {"x": {"field": "day", "type": "quantitative", "scale": {"domain": [0.5, 30.5], "nice": false, "zero": false}, "axis": null}, "x2": {"field": "day"},
   "y": {"field": "sun", "type": "quantitative", "scale": {"domain": [-93.6, 20.4], "nice": false, "zero": false, "reverse": true},
    "axis": {"orient": "left", "values": [0,2,4,6,8,10,12,14,16], "labelPadding": 20, "title": "Sonnenschein (h)", "titleX": -63, "titleY": 493}},
   "y2": {"datum": 0}}},
 {"data": {"name": "days"}, "transform": [{"filter": "datum.sun > 0"}],
  "mark": {"type": "rect", "fill": "white", "stroke": "#ff3300", "strokeWidth": 1, "xOffset": -5.5, "x2Offset": 4.5},
  "encoding": {"x": {"field": "day", "type": "quantitative", "scale": {"domain": [0.5, 30.5], "nice": false, "zero": false}, "axis": null}, "x2": {"field": "day"},
   "y": {"field": "sun", "type": "quantitative", "scale": {"domain": [-93.6, 20.4], "nice": false, "zero": false, "reverse": true}, "axis": null}, "y2": {"datum": 0}}},
 {"data": {"name": "sunmax"},
  "mark": {"type": "rule", "color": "black", "strokeWidth": 1, "strokeDash": [1, 1.5]},
  "encoding": {"x": {"field": "t0", "type": "quantitative", "scale": {"domain": [0.5, 30.5], "nice": false, "zero": false}, "axis": null}, "x2": {"field": "t1"},
   "y": {"field": "h", "type": "quantitative", "scale": {"domain": [-93.6, 20.4], "nice": false, "zero": false, "reverse": true}, "axis": null}}},

 {"data": {"values": [{}]},
  "mark": {"type": "rect", "fill": "transparent", "stroke": "#ff3300", "strokeWidth": 2},
  "encoding": {"x": {"datum": 0.5, "type": "quantitative", "scale": {"domain": [0.5, 30.5], "nice": false, "zero": false}, "axis": null}, "x2": {"datum": 30.5},
   "y": {"datum": 1, "type": "quantitative", "scale": {"domain": [-10.875, 1], "nice": false, "zero": false}, "axis": null}, "y2": {"datum": -10.875}}}
],
"resolve": {"scale": {"x": "independent", "y": "independent"}, "axis": {"x": "independent", "y": "independent"}}
}
